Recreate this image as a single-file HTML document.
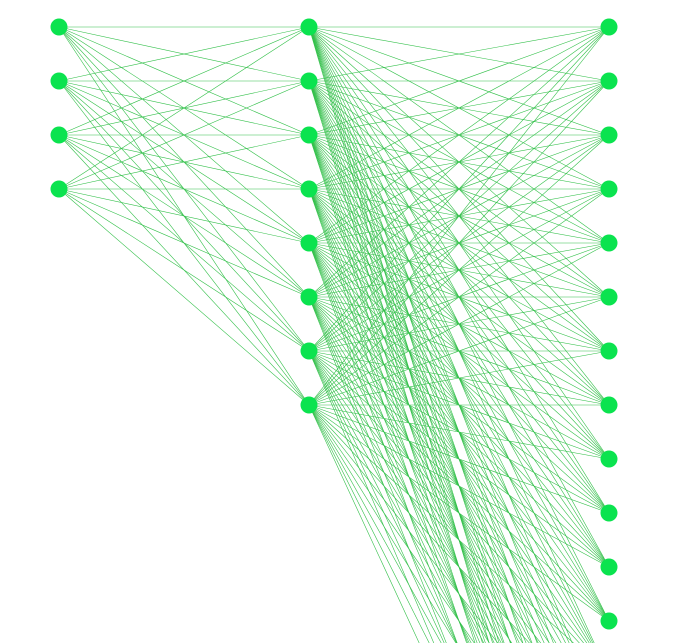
<!DOCTYPE html>
<html><head><meta charset="utf-8"><style>html,body{margin:0;padding:0;background:#fff;overflow:hidden;width:683px;height:643px}svg{display:block;overflow:hidden}</style></head>
<body>
<svg id="net" width="683" height="643" viewBox="0 0 683 643" xmlns="http://www.w3.org/2000/svg">
<g id="edges"></g>
<g id="nodes"></g>
</svg>
<script>
const layerSizes = [4, 8, 20];
const layerNames = ["input-layer", "hidden-layer", "output-layer"];
const X0 = 59, DX = 250, DX2 = 300, Y0 = 27, DY = 54, R = 8.5;
const ns = "http://www.w3.org/2000/svg";
function lx(l){ return l === 0 ? X0 : (l === 1 ? X0 + DX : X0 + DX + DX2); }
function ly(i){ return Y0 + i * DY; }
const edges = document.getElementById('edges');
const nodes = document.getElementById('nodes');
for (let l = 0; l < layerSizes.length - 1; l++) {
  for (let i = 0; i < layerSizes[l]; i++) {
    for (let j = 0; j < layerSizes[l+1]; j++) {
      const ln = document.createElementNS(ns, 'line');
      
      
      ln.setAttribute('x1', lx(l)); ln.setAttribute('y1', ly(i));
      ln.setAttribute('x2', lx(l+1)); ln.setAttribute('y2', ly(j));
      ln.setAttribute('stroke', '#33c04a');
      ln.setAttribute('stroke-width', '0.6');
      edges.appendChild(ln);
    }
  }
}
for (let l = 0; l < layerSizes.length; l++) {
  for (let i = 0; i < layerSizes[l]; i++) {
    const c = document.createElementNS(ns, 'circle');
    
    
    c.setAttribute('cx', lx(l)); c.setAttribute('cy', ly(i));
    c.setAttribute('r', R);
    c.setAttribute('fill', '#0be34f');
    nodes.appendChild(c);
  }
}
</script>
</body></html>
